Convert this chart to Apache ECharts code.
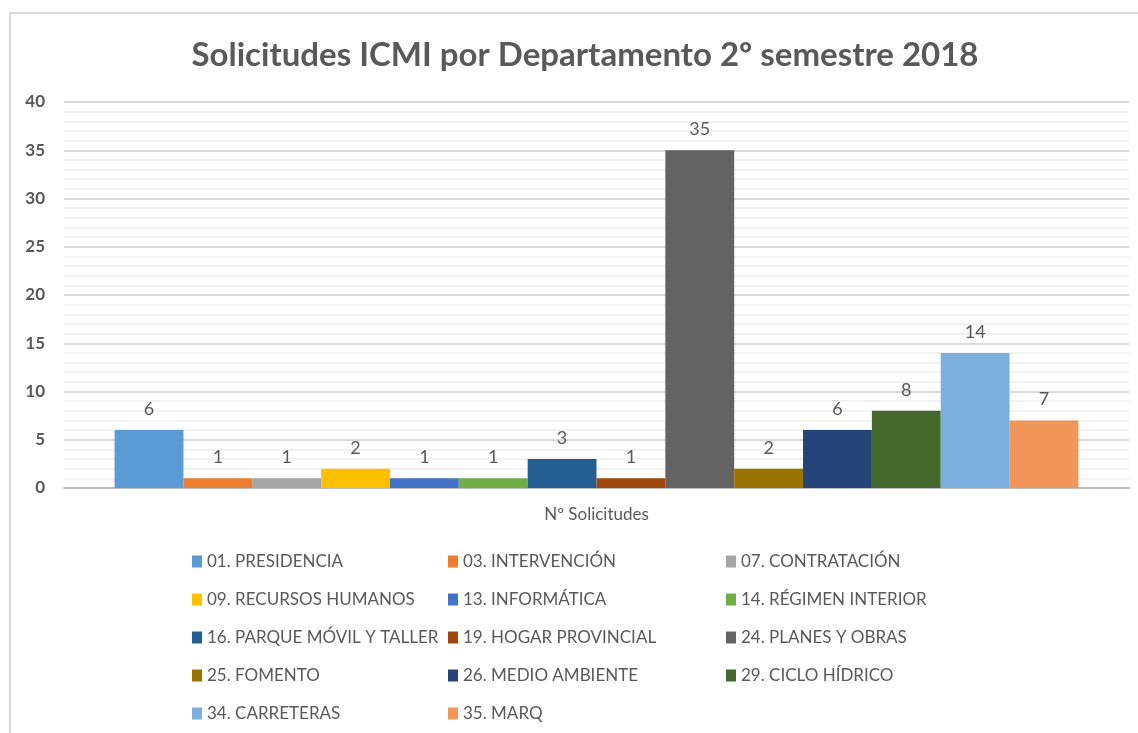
<!DOCTYPE html>
<html>
<head>
<meta charset="utf-8">
<script src="https://cdn.jsdelivr.net/npm/echarts@6/dist/echarts.min.js"></script>
<style>
  html, body { margin: 0; padding: 0; background: #fff; }
  #chart { width: 1138px; height: 733px; }
</style>
</head>
<body>
<div id="chart"></div>
<script>
const categories = ['Nº Solicitudes']
const departments = [
    '01. PRESIDENCIA', '03. INTERVENCIÓN', '07. CONTRATACIÓN',
    '09. RECURSOS HUMANOS', '13. INFORMÁTICA', '14. RÉGIMEN INTERIOR',
    '16. PARQUE MÓVIL Y TALLER', '19. HOGAR PROVINCIAL', '24. PLANES Y OBRAS',
    '25. FOMENTO', '26. MEDIO AMBIENTE', '29. CICLO HÍDRICO',
    '34. CARRETERAS', '35. MARQ'
]
const requests = [6, 1, 1, 2, 1, 1, 3, 1, 35, 2, 6, 8, 14, 7]
const colors = [
    '#5B9BD5', '#ED7D31', '#A5A5A5', '#FFC000', '#4472C4', '#70AD47', '#255E91',
    '#9E480E', '#636363', '#997300', '#264478', '#43682B', '#7CAFDD', '#F1975A'
]

const font = 'Lato'
const grey = '#595959'

var myChart = echarts.init(document.getElementById('chart'))

// three legend columns, filled row by row like the original
const legendCol = (col, left) => ({
    orient: 'vertical',
    left: left,
    top: 548,
    itemWidth: 10,
    itemHeight: 12,
    itemGap: 21,
    icon: 'rect',
    textStyle: { color: grey, fontSize: 17, fontFamily: font, lineHeight: 17 },
    data: departments.filter((d, i) => i % 3 === col)
})

myChart.setOption({
    animation: false,
    title: {
        text: 'Solicitudes ICMI por Departamento 2º semestre 2018',
        left: 580,
        textAlign: 'center',
        top: 34,
        textStyle: { color: grey, fontSize: 33, fontWeight: 'bold', fontFamily: font }
    },
    graphic: [{
        type: 'rect',
        shape: { x: 10, y: 13, width: 1140, height: 740 },
        style: { fill: 'none', stroke: '#d9d9d9', lineWidth: 2 },
        silent: true
    }],
    legend: [legendCol(0, 187), legendCol(1, 443), legendCol(2, 721)],
    grid: { left: 64, right: 9, top: 102, bottom: 245, containLabel: false },
    xAxis: {
        type: 'category',
        data: categories,
        axisTick: { show: false },
        axisLine: { lineStyle: { color: '#bfbfbf', width: 2 } },
        axisLabel: { color: grey, fontSize: 17, fontFamily: font, margin: 18 }
    },
    yAxis: {
        type: 'value',
        min: 0,
        max: 40,
        interval: 5,
        axisLine: { show: false },
        axisTick: { show: false },
        axisLabel: { color: grey, fontSize: 17, fontWeight: 'bold', fontFamily: font, margin: 19 },
        splitLine: { lineStyle: { color: '#d9d9d9', width: 2 } },
        minorTick: { show: false, splitNumber: 5 },
        minorSplitLine: { show: true, lineStyle: { color: '#f2f2f2', width: 2 } }
    },
    series: departments.map((name, i) => ({
        name: name,
        type: 'bar',
        data: [requests[i]],
        barGap: '0%',
        barCategoryGap: '9.5%',
        itemStyle: { color: colors[i] },
        label: {
            show: true,
            position: 'top',
            distance: 12,
            color: grey,
            fontSize: 18,
            fontFamily: font
        }
    })),
    color: colors
})
</script>
</body>
</html>
